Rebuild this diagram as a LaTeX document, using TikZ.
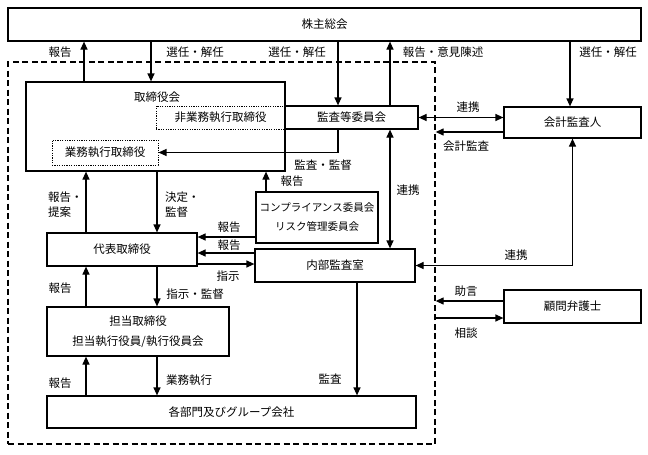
\documentclass[tikz,border=0pt]{standalone}
\usepackage{fontspec}
\newfontfamily\jp{Noto Sans CJK JP}
\usetikzlibrary{arrows.meta,calc}
\begin{document}
\begin{tikzpicture}[x=1pt,y=-1pt,
  every node/.style={font=\jp\fontsize{11.5}{15}\selectfont, inner sep=0pt},
  box/.style={draw, line width=1.2pt, align=center},
  dotbox/.style={draw, line width=1pt, dash pattern=on 1.2pt off 1.2pt},
  dashbox/.style={draw, line width=1.3pt, dash pattern=on 6pt off 3.5pt},
  arr/.style={line width=1.2pt, -{Triangle[length=8pt,width=7pt]}},
  darr/.style={line width=1.2pt, {Triangle[length=8pt,width=7pt]}-{Triangle[length=8pt,width=7pt]}},
  lbl/.style={anchor=center}]
\useasboundingbox (0,0) rectangle (648,455);
% dashed scope
\node[dashbox, minimum width=427pt, minimum height=382pt] (dsh) at (221.5,253) {};
% boxes
\node[box, minimum width=633pt, minimum height=33pt] (top) at (324.5,24.5) {株主総会};
\node[dotbox, minimum width=129pt, minimum height=23pt] (nex) at (220.5,117.5) {非業務執行取締役};
\node[box, minimum width=259pt, minimum height=89pt] (tbk) at (155.5,126.5) {};
\node[lbl] (tbkt) at (157,97) {取締役会};
\node[box, minimum width=133pt, minimum height=23pt] (ac) at (351.5,117.5) {監査等委員会};
\node[dotbox, minimum width=106pt, minimum height=25pt] (ex) at (105,152.5) {業務執行取締役};
\node[box, minimum width=137pt, minimum height=31pt] (aud) at (572.5,122.5) {会計監査人};
\node[box, minimum width=122pt, minimum height=51pt, font=\jp\fontsize{10.5}{14}\selectfont] (comp) at (317,217.5) {コンプライアンス委員会\\[5pt]リスク管理委員会};
\node[box, minimum width=160pt, minimum height=33pt] (ia) at (335,265.5) {内部監査室};
\node[box, minimum width=150pt, minimum height=33pt] (rep) at (122,249.5) {代表取締役};
\node[box, minimum width=182pt, minimum height=49pt] (tan) at (138,331.5) {担当取締役\\[5pt]担当執行役員/執行役員会};
\node[box, minimum width=369pt, minimum height=32pt] (dept) at (231.5,412) {各部門及びグループ会社};
\node[box, minimum width=137pt, minimum height=33pt] (law) at (572.5,306.5) {顧問弁護士};
% helper coordinates
\coordinate (xa) at (84,0);
\coordinate (xb) at (151,0);
\coordinate (xc) at (338,0);
\coordinate (xd) at (390,0);
\coordinate (xe) at (570,0);
\coordinate (xf) at (266,0);
\coordinate (xg) at (86,0);
\coordinate (xh) at (157,0);
\coordinate (xi) at (357,0);
\coordinate (ya) at (0,132);
\coordinate (yb) at (0,237);
\coordinate (yc) at (0,253);
\coordinate (yd) at (0,264);
\coordinate (ye) at (0,301);
\coordinate (yf) at (0,318);
% connectors
\draw[arr] (tbk.north -| xa) -- (top.south -| xa);
\draw[arr] (top.south -| xb) -- (tbk.north -| xb);
\draw[arr] (top.south -| xc) -- (ac.north -| xc);
\draw[arr] (ac.north -| xd) -- (top.south -| xd);
\draw[arr] (top.south -| xe) -- (aud.north -| xe);
\draw[darr] (ac.east) -- (aud.west |- ac.east);
\draw[arr] (aud.west |- ya) -- (dsh.east |- ya);
\draw[arr] (ac.south -| xc) |- (ex.east);
\draw[arr] (comp.north -| xf) -- (tbk.south -| xf);
\draw[darr] (ac.south -| xd) -- (ia.north -| xd);
\draw[arr] (rep.north -| xg) -- (tbk.south -| xg);
\draw[arr] (tbk.south -| xh) -- (rep.north -| xh);
\draw[arr] (comp.west |- yb) -- (rep.east |- yb);
\draw[arr] (ia.west |- yc) -- (rep.east |- yc);
\draw[arr] (rep.east |- yd) -- (ia.west |- yd);
\draw[arr] (tan.north -| xg) -- (rep.south -| xg);
\draw[arr] (rep.south -| xh) -- (tan.north -| xh);
\draw[arr] (dept.north -| xg) -- (tan.south -| xg);
\draw[arr] (tan.south -| xh) -- (dept.north -| xh);
\draw[arr] (ia.south -| xi) -- (dept.north -| xi);
\draw[darr] (ia.east) -| (aud.south);
\draw[arr] (law.west |- ye) -- (dsh.east |- ye);
\draw[arr] (dsh.east |- yf) -- (law.west |- yf);
% labels
\node[lbl] (l1) at (60,52) {報告};
\node[lbl] (l2) at (195,52) {選任・解任};
\node[lbl] (l3) at (297,52) {選任・解任};
\node[lbl] (l4) at (443,52) {報告・意見陳述};
\node[lbl] (l5) at (608,52) {選任・解任};
\node[lbl] (l6) at (468,107) {連携};
\node[lbl] (l7) at (466,146) {会計監査};
\node[lbl] (l8) at (323,165) {監査・監督};
\node[lbl] (l9) at (292,181) {報告};
\node[lbl] (l10) at (408,190) {連携};
\node[anchor=west, align=left] (l11) at (48,204.5) {報告・\\提案};
\node[anchor=west, align=left] (l12) at (165,204.5) {決定・\\監督};
\node[lbl] (l13) at (229,227) {報告};
\node[lbl] (l14) at (229,245) {報告};
\node[lbl] (l15) at (228,276) {指示};
\node[lbl] (l16) at (60,288) {報告};
\node[lbl] (l17) at (195,294) {指示・監督};
\node[lbl] (l18) at (60,383) {報告};
\node[lbl] (l19) at (189,380) {業務執行};
\node[lbl] (l20) at (330,379) {監査};
\node[lbl] (l21) at (516,255) {連携};
\node[lbl] (l22) at (466,291) {助言};
\node[lbl] (l23) at (466,333) {相談};
\end{tikzpicture}
\end{document}
